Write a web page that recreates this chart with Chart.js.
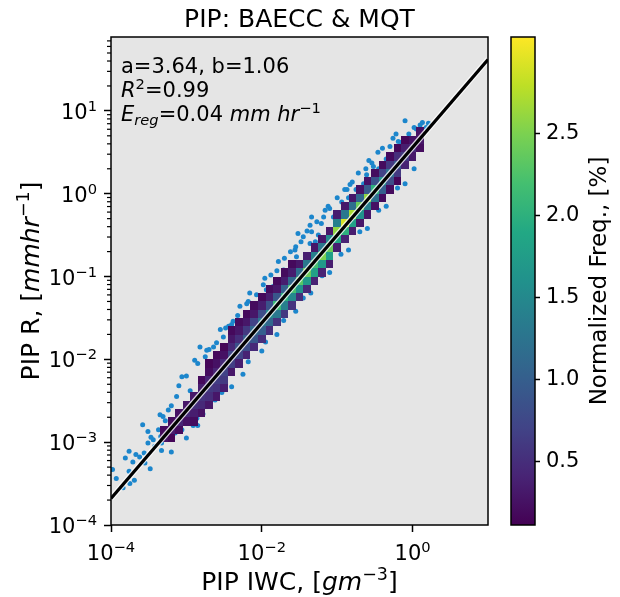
<!DOCTYPE html>
<html>
<head>
<meta charset="utf-8">
<script src="https://cdn.jsdelivr.net/npm/chart.js@4.4.1/dist/chart.umd.min.js"></script>
<style>
  html, body { margin: 0; padding: 0; background: #fff; }
</style>
</head>
<body>
<canvas id="myChart" width="620" height="597"></canvas>
<script>
// fitted power law R = a * IWC^b
const fitA = 3.64;
const fitB = 1.06;
const fitR2 = 0.99;
const fitErr = 0.04;

// 2d histogram: one column per log10(IWC) bin, 0.1 decade wide
const binLogIWC = [-3.3, -3.2, -3.1, -3.0, -2.9, -2.8, -2.7, -2.6, -2.5, -2.4, -2.3, -2.2,
  -2.1, -2.0, -1.9, -1.8, -1.7, -1.6, -1.5, -1.4, -1.3, -1.2, -1.1, -1.0, -0.9, -0.8,
  -0.7, -0.6, -0.5, -0.4, -0.3, -0.2, -0.1, 0.0, 0.1];
// centre (log10 R) of the lowest filled bin in each column
const binLowLogR = [-2.95, -2.95, -2.85, -2.75, -2.75, -2.65, -2.55, -2.45, -2.35, -2.15, -2.05, -1.95,
  -1.85, -1.75, -1.65, -1.55, -1.45, -1.35, -1.25, -1.15, -1.05, -0.95, -0.85, -0.65, -0.55, -0.45,
  -0.35, -0.25, -0.15, -0.05, 0.05, 0.15, 0.35, 0.45, 0.55];
// normalized frequency [%] of the bins, bottom to top
const binFreq = [
  [0.25, 0.18], [0.15, 0.35, 0.2], [0.2, 0.4, 0.25], [0.25, 0.45, 0.3],
  [0.2, 0.35, 0.5, 0.3], [0.25, 0.45, 0.55, 0.35, 0.18],
  [0.3, 0.5, 0.6, 0.4, 0.2, 0.15], [0.3, 0.55, 0.65, 0.4, 0.25, 0.18], [0.35, 0.6, 0.7, 0.45, 0.25, 0.15],
  [0.3, 0.65, 0.75, 0.45, 0.3, 0.18], [0.35, 0.7, 0.85, 0.5, 0.3, 0.2], [0.4, 0.8, 0.95, 0.6, 0.3, 0.18],
  [0.45, 0.9, 1.1, 0.7, 0.3, 0.2], [0.5, 1.0, 1.3, 0.8, 0.35, 0.18], [0.5, 1.1, 1.5, 0.85, 0.35, 0.2],
  [0.55, 1.3, 2.1, 0.9, 0.3, 0.18], [0.6, 1.4, 2.0, 1.0, 0.35, 0.2], [0.55, 1.5, 2.2, 1.1, 0.35, 0.18],
  [0.5, 1.6, 2.3, 1.2, 0.3], [0.45, 1.7, 2.4, 1.3, 0.35], [0.4, 1.8, 2.2, 1.4, 0.3],
  [0.4, 1.7, 2.5, 1.3, 0.3], [0.35, 1.8, 2.4, 1.5, 0.3], [0.35, 1.9, 2.6, 1.4, 0.35],
  [0.4, 2.0, 2.9, 1.3, 0.3], [0.35, 1.8, 2.7, 1.2, 0.3], [0.3, 1.6, 2.4, 1.1, 0.25],
  [0.3, 1.4, 2.6, 0.95, 0.25], [0.25, 1.2, 2.0, 0.85, 0.2], [0.2, 1.0, 1.6, 0.7, 0.2],
  [0.2, 0.8, 1.2, 0.6, 0.18], [0.15, 0.6, 0.9, 0.5, 0.15], [0.4, 0.6, 0.35, 0.15],
  [0.3, 0.45, 0.25], [0.2, 0.3, 0.25]
];

// single samples outside the dense bins (log10 IWC, log10 R)
const dotLogIWC = [-3.98, -3.93, -3.84, -3.75, -3.69, -3.76, -3.71, -3.81, -3.76, -3.67, -3.62, -3.55,
  -3.48, -3.56, -3.51, -3.44, -3.42, -3.33, -3.33, -3.58, -3.51, -3.47, -3.37, -3.34, -3.35, -3.31,
  -3.24, -3.20, -3.15, -3.06, -2.97, -2.86, -3.13, -3.28, -3.06, -2.89, -2.82, -2.75, -2.73, -2.64,
  -2.55, -2.51, -2.44, -2.38, -2.25, -2.29, -2.18, -2.13, -2.16, -1.96, -1.94, -1.76, -1.67, -1.78,
  -1.54, -1.71, -1.56, -1.52, -1.45, -1.36, -1.36, -1.34, -1.29, -1.34, -1.21, -1.18, -1.16, -1.10,
  -0.96, -0.90, -0.85, -0.94, -0.87, -0.83, -0.61, -0.54, -0.52, -0.30, -0.26, -0.19, 0.10, 0.13,
  0.21, 0.18, 0.05, -2.95, -2.60, -2.35, -2.05, -1.85, -1.60, -1.25, -1.05, -0.75, -0.65, -0.45,
  -0.35, -0.15, -0.05, 0.02, -2.91, -2.69, -2.53, -2.62, -2.78, -2.51, -2.18, -1.95, -1.71, -1.45,
  -1.20, -0.95, -0.70, -0.45, -0.20, 0.02,
  -2.85, -2.70, -2.48, -2.32, -2.20, -2.07, -1.98, -1.88, -1.80, -1.62, -1.48, -1.40, -1.27, -1.12,
  -1.00, -0.80, -0.72, -0.58, -0.46, -0.40, -0.22, -0.10, -3.00, -3.10, -2.60, -2.40, -1.70, -1.55,
  -0.90, -0.62,
  -3.20, -3.00, -2.85, -2.40, -2.25, -2.00, -1.80, -1.55, -1.35, -1.10, -0.85, -0.60, -0.35, -0.10];
const dotLogR = [-3.33, -3.44, -3.55, -3.50, -3.46, -3.35, -3.24, -3.19, -3.11, -3.15, -3.18, -3.25,
  -3.32, -3.13, -3.01, -2.97, -3.05, -3.10, -3.01, -2.79, -2.87, -2.94, -2.85, -2.93, -2.67, -2.69,
  -2.61, -2.56, -2.89, -2.85, -2.65, -2.71, -2.45, -2.74, -2.21, -2.01, -1.85, -1.97, -1.89, -1.85,
  -1.64, -1.73, -1.60, -1.54, -1.56, -1.36, -1.30, -1.42, -1.20, -1.02, -1.16, -1.08, -0.98, -0.82,
  -0.76, -0.92, -0.68, -0.48, -0.52, -0.60, -0.38, -0.46, -0.58, -0.28, -0.36, -0.28, -0.20, -0.18,
  -0.24, -0.14, -0.05, -0.10, 0.05, 0.11, 0.23, 0.37, 0.33, 0.57, 0.67, 0.63, 0.83, 0.86,
  0.85, 0.80, 0.78, -2.38, -1.98, -1.72, -1.36, -1.12, -0.88, -0.50, -0.28, 0.05, 0.12, 0.30,
  0.42, 0.62, 0.72, 0.80, -2.80, -2.57, -2.40, -2.49, -2.66, -2.36, -2.03, -1.79, -1.53, -1.26,
  -0.99, -0.73, -0.46, -0.20, 0.07, 0.30,
  -2.05, -1.88, -1.62, -1.47, -1.33, -1.22, -1.10, -0.98, -0.93, -0.70, -0.58, -0.45, -0.34, -0.15,
  -0.05, 0.14, 0.25, 0.40, 0.50, 0.55, 0.72, 0.88, -2.20, -2.32, -1.80, -1.58, -0.78, -0.64,
  0.05, 0.30,
  -3.12, -2.95, -2.80, -2.33, -2.18, -1.90, -1.70, -1.42, -1.20, -0.95, -0.68, -0.42, -0.15, 0.12];

const xMin = 1e-4, xMax = 10;
const yMin = 1e-4, yMax = 78;
const xTickExp = [-4, -2, 0];
const yTickExp = [-4, -3, -2, -1, 0, 1];
const cbMin = 0.11, cbMax = 3.09;
const cbTicks = [0.5, 1.0, 1.5, 2.0, 2.5];

const FONT = 'DejaVu Sans';
const viridis = ['#440154', '#482475', '#414487', '#355f8d', '#2a788e', '#21918c',
  '#22a884', '#44bf70', '#7ad151', '#bddf26', '#fde725'];

function hexRgb(h) {
  return [parseInt(h.slice(1, 3), 16), parseInt(h.slice(3, 5), 16), parseInt(h.slice(5, 7), 16)];
}

function cmap(v) {
  let t = (v - cbMin) / (cbMax - cbMin);
  t = Math.max(0, Math.min(1, t));
  const p = t * (viridis.length - 1);
  const i = Math.min(Math.floor(p), viridis.length - 2);
  const f = p - i;
  const a = hexRgb(viridis[i]), b = hexRgb(viridis[i + 1]);
  return 'rgb(' + a.map((c, k) => Math.round(c + (b[k] - c) * f)).join(',') + ')';
}

// runs: [text, size, italic, dy]
function drawRuns(ctx, runs, x, y, align) {
  const font = r => (r[2] ? 'italic ' : '') + r[1] + 'px "' + FONT + '"';
  let w = 0;
  runs.forEach(r => { ctx.font = font(r); w += ctx.measureText(r[0]).width; });
  let cx = align === 'center' ? x - w / 2 : align === 'right' ? x - w : x;
  ctx.textAlign = 'left';
  ctx.textBaseline = 'alphabetic';
  runs.forEach(r => {
    ctx.font = font(r);
    ctx.fillText(r[0], cx, y + (r[3] || 0));
    cx += ctx.measureText(r[0]).width;
  });
}

function powLabel(exp) {
  const e = exp < 0 ? '\u2212' + (-exp) : String(exp);
  return [['10', 21], [e, 14.7, false, -8]];
}

const dots = dotLogIWC.map((lx, i) => ({x: 10 ** lx, y: 10 ** dotLogR[i]}));
const fitLine = [xMin, xMax].map(v => ({x: v, y: fitA * v ** fitB}));

const figPlugin = {
  id: 'fig',
  beforeDraw(chart) {
    const {ctx, chartArea: a} = chart;
    ctx.save();
    ctx.fillStyle = '#e5e5e5';
    ctx.fillRect(a.left, a.top, a.right - a.left, a.bottom - a.top);
    ctx.restore();
  },
  afterDatasetDraw(chart, args) {
    // histogram cells sit on top of the scatter points, under the fit line
    if (args.index !== 2) return;
    const {ctx, scales: {x, y}} = chart;
    ctx.save();
    binLogIWC.forEach((lx, i) => {
      const x0 = Math.round(x.getPixelForValue(10 ** (lx - 0.05)));
      const x1 = Math.round(x.getPixelForValue(10 ** (lx + 0.05)));
      binFreq[i].forEach((f, k) => {
        const ly = binLowLogR[i] + k * 0.1;
        const y0 = Math.round(y.getPixelForValue(10 ** (ly + 0.05)));
        const y1 = Math.round(y.getPixelForValue(10 ** (ly - 0.05)));
        ctx.fillStyle = cmap(f);
        ctx.fillRect(x0, y0, x1 - x0, y1 - y0);
      });
    });
    ctx.restore();
  },
  afterDatasetsDraw(chart) {
    const {ctx, chartArea: a, scales: {y, cb}} = chart;
    ctx.save();
    ctx.strokeStyle = '#000';
    // minor ticks on the R axis
    ctx.lineWidth = 1.2;
    for (let k = -4; k <= 1; k++) {
      for (let m = 2; m <= 9; m++) {
        const v = m * 10 ** k;
        if (v > yMax) break;
        const py = y.getPixelForValue(v);
        ctx.beginPath();
        ctx.moveTo(a.left - 4, py);
        ctx.lineTo(a.left, py);
        ctx.stroke();
      }
    }
    // axes frame
    ctx.lineWidth = 1.5;
    ctx.strokeRect(a.left, a.top, a.right - a.left, a.bottom - a.top);
    // colour bar
    const bx = cb.left - 24, top = cb.getPixelForValue(cbMax), bot = cb.getPixelForValue(cbMin);
    const g = ctx.createLinearGradient(0, bot, 0, top);
    viridis.forEach((c, i) => g.addColorStop(i / (viridis.length - 1), c));
    ctx.fillStyle = g;
    ctx.fillRect(bx, top, 24, bot - top);
    ctx.strokeRect(bx, top, 24, bot - top);
    ctx.restore();
  },
  afterDraw(chart) {
    const {ctx, chartArea: a, scales: {x, y}} = chart;
    ctx.save();
    ctx.fillStyle = '#000';
    x.ticks.forEach(t => {
      drawRuns(ctx, powLabel(Math.round(Math.log10(t.value))), x.getPixelForValue(t.value), 560, 'center');
    });
    y.ticks.forEach(t => {
      drawRuns(ctx, powLabel(Math.round(Math.log10(t.value))), 97, y.getPixelForValue(t.value) + 8, 'right');
    });
    // fit annotation
    drawRuns(ctx, [['a=' + fitA.toFixed(2) + ', b=' + fitB.toFixed(2), 21]], a.left + 10, 73);
    drawRuns(ctx, [['R', 21, true], ['2', 14.7, false, -8], ['=' + fitR2.toFixed(2), 21]], a.left + 10, 97);
    drawRuns(ctx, [['E', 21, true], ['reg', 14.7, true, 4], ['=' + fitErr.toFixed(2) + ' ', 21],
      ['mm hr', 21, true], ['\u22121', 14.7, false, -8]], a.left + 10, 121);
    // axis labels
    const midY = (a.top + a.bottom) / 2;
    drawRuns(ctx, [['PIP IWC, [', 25], ['gm', 25, true], ['\u22123', 17.5, false, -10], [']', 25]],
      (a.left + a.right) / 2, 590, 'center');
    ctx.save();
    ctx.translate(39, midY);
    ctx.rotate(-Math.PI / 2);
    drawRuns(ctx, [['PIP R, [', 25], ['mmhr', 25, true], ['\u22121', 17.5, false, -10], [']', 25]], 0, 0, 'center');
    ctx.restore();
    ctx.save();
    ctx.translate(606, midY);
    ctx.rotate(-Math.PI / 2);
    drawRuns(ctx, [['Normalized Freq., [%]', 23]], 0, 0, 'center');
    ctx.restore();
    ctx.restore();
  }
};

const tickGrid = {drawOnChartArea: false, drawTicks: true, tickLength: 7, tickWidth: 1.5, tickColor: '#000'};

new Chart('myChart', {
  type: 'scatter',
  data: {
    datasets: [
      {type: 'line', data: fitLine, borderColor: '#000', borderWidth: 3.2, pointRadius: 0, fill: false},
      {type: 'line', data: fitLine, borderColor: 'rgba(255,255,255,0.8)', borderWidth: 5.6, pointRadius: 0, fill: false},
      {data: dots, backgroundColor: 'rgb(28,134,204)', borderWidth: 0, pointRadius: 2.5}
    ]
  },
  options: {
    responsive: false,
    animation: false,
    events: [],
    plugins: {
      legend: {display: false},
      tooltip: {enabled: false},
      title: {
        display: true,
        text: 'PIP: BAECC & MQT',
        fullSize: false,
        color: '#000',
        font: {family: FONT, size: 25, weight: 'normal'},
        padding: {top: 5, bottom: 2}
      }
    },
    scales: {
      x: {
        type: 'logarithmic', position: 'bottom', min: xMin, max: xMax,
        afterBuildTicks: s => { s.ticks = xTickExp.map(e => ({value: 10 ** e})); },
        afterFit: s => { s.height = 72; },
        ticks: {display: false},
        border: {display: false},
        grid: tickGrid
      },
      y: {
        type: 'logarithmic', position: 'left', min: yMin, max: yMax,
        afterBuildTicks: s => { s.ticks = yTickExp.map(e => ({value: 10 ** e})); },
        afterFit: s => { s.width = 111; },
        ticks: {display: false},
        border: {display: false},
        grid: tickGrid
      },
      gap: {
        type: 'linear', axis: 'y', position: 'right', weight: 0,
        afterFit: s => { s.width = 47; },
        ticks: {display: false},
        border: {display: false},
        grid: {display: false}
      },
      cb: {
        type: 'linear', axis: 'y', position: 'right', weight: 1, min: cbMin, max: cbMax,
        afterBuildTicks: s => { s.ticks = cbTicks.map(v => ({value: v})); },
        afterFit: s => { s.width = 85; },
        ticks: {color: '#000', padding: 6, font: {family: FONT, size: 21}, callback: v => v.toFixed(1)},
        border: {display: false},
        grid: {drawOnChartArea: false, drawTicks: true, tickLength: 5, tickWidth: 1.5, tickColor: '#000'}
      }
    }
  },
  plugins: [figPlugin]
});
</script>
</body>
</html>
